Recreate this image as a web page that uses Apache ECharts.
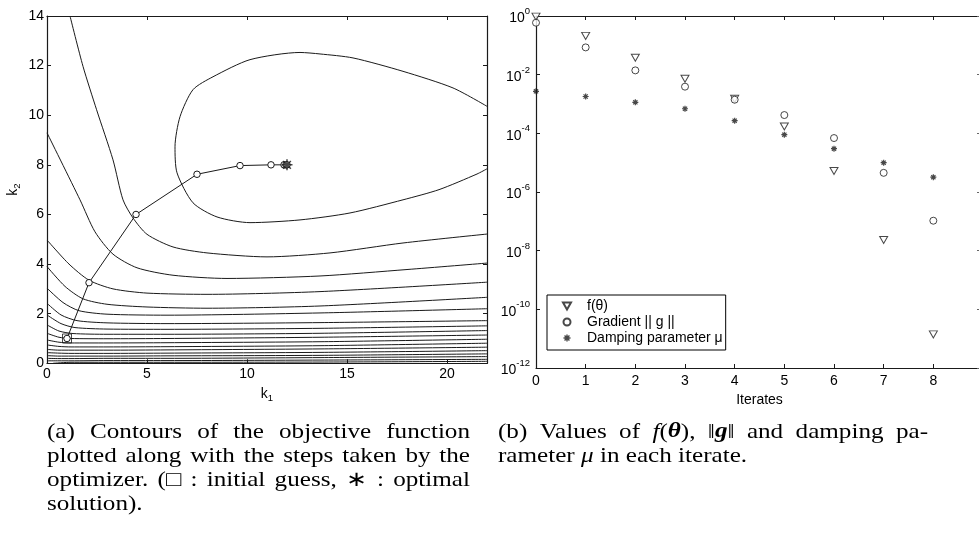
<!DOCTYPE html>
<html><head><meta charset="utf-8">
<script src="https://cdn.jsdelivr.net/npm/echarts@6/dist/echarts.min.js"></script>
<style>html,body{margin:0;padding:0;background:#fff}#c{width:979px;height:550px}</style>
</head><body><div id="c"></div>
<script>
// ---------- data: right panel ----------
const iterates = [0, 1, 2, 3, 4, 5, 6, 7, 8];
const fTheta   = [0.95, 0.21, 0.038, 0.0073, 0.0015, 1.7e-4, 5.2e-6, 2.3e-8, 1.4e-11];
const gradNorm = [0.59, 0.085, 0.014, 0.0039, 0.0014, 4.2e-4, 6.9e-5, 4.5e-6, 1.05e-7];
const damping  = [0.0027, 0.0018, 0.00114, 6.9e-4, 2.7e-4, 9e-5, 3e-5, 1e-5, 3.2e-6];
const iterTickLabels = ['0','1','2','3','4','5','6','7','8'];
const logTickExponents = [0, -2, -4, -6, -8, -10, -12];

// ---------- data: left panel ----------
const k1TickLabels = ['0','5','10','15','20'];
const k2TickLabels = ['0','2','4','6','8','10','12','14'];
const stepK1 = [1.0, 2.1, 4.45, 7.5, 9.65, 11.2, 11.85, 11.95, 12.0];
const stepK2 = [1.0, 3.25, 6.0, 7.62, 7.97, 8.0, 8.0, 8.0, 8.0];
const initialGuess = [[1.0, 1.0]];
const optimum = [[12.0, 8.0]];
// contour lines, [k1, k2]
const contour01 = [[22,10.36],[20.3,11.1],[17.8,11.77],[15.3,12.31],[13.65,12.47],[12.65,12.53],[10.15,12.24],[8.3,11.55],[7.3,11.03],[6.65,9.94],[6.4,8.73],[6.5,7.68],[7.3,6.47],[8.5,5.9],[10.15,5.67],[12.65,5.78],[15.15,6.06],[17.8,6.59],[19.6,7.0],[21.5,7.63],[22,7.84]];
const contour02 = [[1.15,14],[1.8,11.97],[2.48,10.22],[3.3,8.2],[3.8,6.59],[4.3,5.86],[5.0,5.2],[6.3,4.69],[8.0,4.45],[11.0,4.29],[14.15,4.45],[17.8,4.85],[22,5.21]];
const contour03 = [[0,9.29],[1.65,6.59],[2.4,5.3],[3.3,4.4],[4.5,3.85],[6.3,3.55],[9,3.42],[13.65,3.52],[18,3.78],[22,4.04]];
const contour04 = [[0,4.97],[1.1,4.0],[2.1,3.35],[3.3,3.0],[5,2.83],[8,2.78],[13.65,2.89],[22,3.27]];
const contour05 = [[0,3.9],[0.9,3.1],[1.8,2.6],[3,2.38],[5,2.27],[8,2.22],[13.65,2.31],[22,2.66]];
const contour06 = [[0,3.03],[0.8,2.45],[1.6,2.12],[3,1.98],[6,1.94],[13.65,2.03],[22,2.2]];
const contour07 = [[0,2.42],[0.7,1.95],[1.5,1.72],[3,1.63],[6,1.6],[13.65,1.64],[22,1.72]];
const contour08 = [[0,1.95],[0.7,1.6],[1.4,1.44],[3,1.38],[6,1.37],[13.65,1.41],[22,1.51]];
const contour09 = [[0,1.55],[0.6,1.3],[1.3,1.2],[3,1.17],[6,1.17],[13.65,1.21],[22,1.32]];
const contour10 = [[0,1.21],[0.6,1.05],[1.2,1.0],[3,0.99],[6,1.0],[13.65,1.05],[22,1.14]];
const contour11 = [[0,0.94],[0.6,0.85],[1.2,0.82],[3,0.82],[6,0.83],[13.65,0.87],[22,0.97]];
const contour12 = [[0,0.74],[0.6,0.68],[1.2,0.66],[3,0.66],[6,0.67],[13.65,0.71],[22,0.81]];
const contour13 = [[0,0.56],[0.6,0.53],[1.2,0.53],[3,0.53],[6,0.54],[13.65,0.58],[22,0.65]];
const contour14 = [[0,0.43],[0.6,0.41],[1.2,0.4],[3,0.4],[6,0.41],[13.65,0.44],[22,0.51]];
const contour15 = [[0,0.31],[0.6,0.29],[1.2,0.29],[3,0.29],[6,0.3],[13.65,0.32],[22,0.38]];
const contour16 = [[0,0.2],[0.6,0.19],[1.2,0.19],[3,0.2],[6,0.2],[13.65,0.23],[22,0.27]];
const contour17 = [[0,0.1],[0.6,0.1],[1.2,0.1],[3,0.11],[6,0.11],[13.65,0.13],[22,0.16]];
const contour18 = [[0.3,0],[1.2,0.04],[3,0.04],[6,0.04],[13.65,0.05],[22,0.08]];
const contours = [contour01,contour02,contour03,contour04,contour05,contour06,contour07,contour08,contour09,
  contour10,contour11,contour12,contour13,contour14,contour15,contour16,contour17,contour18];

// ---------- styles ----------
const INK = '#1a1a1a';
const SANS = '"Liberation Sans", Arial, sans-serif';
const AX_FS = 14;
const ASTER = 'path://M-0.7,-5 L0.7,-5 L0.7,5 L-0.7,5 Z M-5,-0.7 L5,-0.7 L5,0.7 L-5,0.7 Z M-3.99,-3.01 L-3.01,-3.99 L3.99,3.01 L3.01,3.99 Z M3.01,-3.99 L3.99,-3.01 L-3.01,3.99 L-3.99,3.01 Z';
const ASTER_BOLD = 'path://M-1,-5 L1,-5 L1,5 L-1,5 Z M-5,-1 L5,-1 L5,1 L-5,1 Z M-4.2,-2.8 L-2.8,-4.2 L4.2,2.8 L2.8,4.2 Z M2.8,-4.2 L4.2,-2.8 L-2.8,4.2 L-4.2,2.8 Z';
const TRI_DOWN = 'path://M0,0 L10,0 L5,8.7 Z';
const hollow = {color: '#fff', borderColor: INK, borderWidth: 1};

function baseAxis(extra) {
  return Object.assign({
    axisLine: {show: true, onZero: false, lineStyle: {color: INK, width: 1.2}},
    axisTick: {show: true, inside: true, length: 4, lineStyle: {color: INK, width: 1}},
    splitLine: {show: false},
    axisLabel: {color: '#000', fontFamily: SANS, fontSize: AX_FS},
    nameTextStyle: {color: '#000', fontFamily: SANS, fontSize: AX_FS}
  }, extra);
}
const supRich = {
  b: {fontFamily: SANS, fontSize: AX_FS, color: '#000', verticalAlign: 'bottom', lineHeight: 19},
  s: {fontFamily: SANS, fontSize: 9.5, color: '#000', verticalAlign: 'top', lineHeight: 19}
};
const subRich = {
  a: {fontFamily: SANS, fontSize: AX_FS, color: '#000'},
  s: {fontFamily: SANS, fontSize: 9.5, color: '#000', padding: [8, 0, 0, 0]}
};

const grids = [
  {left: 47, width: 440, top: 16, bottom: 186.7, outerBoundsMode: 'none', containLabel: false},
  {left: 536, width: 447, top: 16, bottom: 182, outerBoundsMode: 'none', containLabel: false}
];

const xAxes = [
  baseAxis({gridIndex: 0, type: 'value', min: 0, max: 22, interval: 5, position: 'bottom',
    axisLabel: {color: '#000', fontFamily: SANS, fontSize: AX_FS, margin: 4,
      formatter: v => (v % 5 === 0 ? (k1TickLabels[v / 5] ?? '') : '')},
    name: '{a|k}{s|1}', nameLocation: 'middle', nameGap: 22, nameTextStyle: {rich: subRich}}),
  baseAxis({gridIndex: 0, type: 'value', min: 0, max: 22, interval: 5, position: 'top', axisLabel: {show: false}}),
  baseAxis({gridIndex: 1, type: 'value', min: 0, max: 9, interval: 1, position: 'bottom',
    axisLabel: {color: '#000', fontFamily: SANS, fontSize: AX_FS, margin: 6,
      formatter: v => iterTickLabels[v] ?? ''},
    name: 'Iterates', nameLocation: 'middle', nameGap: 22}),
  baseAxis({gridIndex: 1, type: 'value', min: 0, max: 9, interval: 1, position: 'top', axisLabel: {show: false}})
];
const yAxes = [
  baseAxis({gridIndex: 0, type: 'value', min: 0, max: 14, interval: 2, position: 'left',
    axisLabel: {color: '#000', fontFamily: SANS, fontSize: AX_FS, margin: 3,
      formatter: v => k2TickLabels[Math.round(v / 2)] ?? ''},
    name: '{a|k}{s|2}', nameLocation: 'middle', nameGap: 25, nameRotate: 90, nameTextStyle: {rich: subRich}}),
  baseAxis({gridIndex: 0, type: 'value', min: 0, max: 14, interval: 2, position: 'right', axisLabel: {show: false}}),
  baseAxis({gridIndex: 1, type: 'log', logBase: 10, min: 1e-12, max: 1, interval: 2, position: 'left',
    axisLabel: {color: '#000', fontFamily: SANS, fontSize: AX_FS, margin: 6, rich: supRich,
      formatter: v => { const e = Math.round(Math.log10(v)); return logTickExponents.includes(e) ? '{b|10}{s|' + e + '}' : ''; }}}),
  baseAxis({gridIndex: 1, type: 'log', logBase: 10, min: 1e-12, max: 1, interval: 2, position: 'right',
    axisLabel: {show: false}, axisTick: {show: true, inside: true, length: 6, lineStyle: {color: '#666', width: 1}}})
];

const series = [];
contours.forEach(c => series.push({
  type: 'line', xAxisIndex: 0, yAxisIndex: 0, data: c, showSymbol: false, symbol: 'none',
  smooth: 0.25, lineStyle: {color: INK, width: 1}, silent: true, z: 2
}));
series.push({
  type: 'line', xAxisIndex: 0, yAxisIndex: 0, data: stepK1.map((k, i) => [k, stepK2[i]]),
  symbol: 'circle', symbolSize: 6.5, showSymbol: true, itemStyle: hollow,
  lineStyle: {color: INK, width: 1}, z: 3
});
series.push({type: 'scatter', xAxisIndex: 0, yAxisIndex: 0, data: initialGuess,
  symbol: 'rect', symbolSize: 9, itemStyle: {color: 'rgba(0,0,0,0)', borderColor: INK, borderWidth: 1}, z: 4});
series.push({type: 'scatter', xAxisIndex: 0, yAxisIndex: 0, data: optimum,
  symbol: ASTER, symbolSize: 11, itemStyle: {color: INK}, z: 5});

series.push({name: 'f(θ)', type: 'scatter', xAxisIndex: 2, yAxisIndex: 2,
  data: iterates.map((k, i) => [k, fTheta[i]]), symbol: TRI_DOWN,
  symbolSize: [8, 7], itemStyle: hollow, clip: false, z: 4});
series.push({name: 'Gradient || g ||', type: 'scatter', xAxisIndex: 2, yAxisIndex: 2,
  data: iterates.map((k, i) => [k, gradNorm[i]]), symbol: 'circle',
  symbolSize: 7, itemStyle: hollow, clip: false, z: 4});
series.push({name: 'Damping parameter μ', type: 'scatter', xAxisIndex: 2, yAxisIndex: 2,
  data: iterates.map((k, i) => [k, damping[i]]), symbol: ASTER_BOLD,
  symbolSize: 6, itemStyle: {color: INK}, clip: false, z: 4});

// ---------- captions ----------
const CAP_FS = 21;
const CAP_FAM = '"Liberation Serif", "Times New Roman", serif';
const capStyles = {
  n: {fontFamily: CAP_FAM, fontSize: CAP_FS, color: '#000'},
  i: {fontFamily: CAP_FAM, fontSize: CAP_FS, fontStyle: 'italic', color: '#000'},
  b: {fontFamily: CAP_FAM, fontSize: CAP_FS, fontWeight: 'bold', fontStyle: 'italic', color: '#000'}
};
const measureCtx = document.createElement('canvas').getContext('2d');
function segWidth(txt, st) {
  const s = capStyles[st];
  measureCtx.font = (s.fontStyle || '') + ' ' + (s.fontWeight || '') + ' ' + s.fontSize + 'px ' + s.fontFamily;
  return measureCtx.measureText(txt).width;
}
function W(...segs) { return segs.map(s => Array.isArray(s) ? s : [s, 'n']); }
const captionA = [
  [W('(a)'), W('Contours'), W('of'), W('the'), W('objective'), W('function')],
  [W('plotted'), W('along'), W('with'), W('the'), W('steps'), W('taken'), W('by'), W('the')],
  [W('optimizer.'), W('(□'), W(':'), W('initial'), W('guess,'), W('∗'), W(':'), W('optimal')],
  [W('solution).')]
];
const captionB = [
  [W('(b)'), W('Values'), W('of'), W(['f', 'i'], '(', ['θ', 'b'], '),'), W('‖', ['g', 'b'], '‖'), W('and'), W('damping'), W('pa-')],
  [W('rameter'), W(['μ', 'i']), W('in'), W('each'), W('iterate.')]
];
// horizontal scale so the serif font reaches the width of the reference's wider face
const refLastLineWidth = 250;
const lastNat = ['rameter', 'μ', 'in', 'each', 'iterate.'].reduce((a, w) => a + segWidth(w, 'n'), 0) + 4 * segWidth(' ', 'n');
const CAP_SX = refLastLineWidth / lastNat;
const graphics = [];
function layCaption(lines, x0, x1, y0, pitch) {
  lines.forEach((words, li) => {
    const widths = words.map(w => w.reduce((a, s) => a + segWidth(s[0], s[1]), 0) * CAP_SX);
    const total = widths.reduce((a, b) => a + b, 0);
    const last = li === lines.length - 1;
    const space = segWidth(' ', 'n') * CAP_SX;
    const gap = (!last && words.length > 1) ? (x1 - x0 - total) / (words.length - 1) : space;
    let x = x0;
    words.forEach((w, wi) => {
      graphics.push({type: 'text', x: x, y: y0 + li * pitch, scaleX: CAP_SX, silent: true,
        style: {text: w.map(s => '{' + s[1] + '|' + s[0] + '}').join(''), rich: capStyles,
          verticalAlign: 'middle', align: 'left'}});
      x += widths[wi] + gap;
    });
  });
}
layCaption(captionA, 47, 470, 432, 24);
layCaption(captionB, 498, 928, 432, 24);

const chart = echarts.init(document.getElementById('c'), null, {renderer: 'canvas'});
chart.setOption({
  animation: false,
  backgroundColor: '#fff',
  grid: grids,
  xAxis: xAxes,
  yAxis: yAxes,
  legend: {
    data: [{name: 'f(θ)', icon: TRI_DOWN}, 'Gradient || g ||', 'Damping parameter μ'],
    orient: 'vertical', left: 547, top: 295,
    itemWidth: 8, itemHeight: 7, itemGap: 2,
    padding: [4, 3, 5, 15],
    backgroundColor: '#fff', borderColor: '#000', borderWidth: 1, borderRadius: 0,
    textStyle: {fontFamily: SANS, fontSize: 14, color: '#000', padding: [0, 0, 0, 11]},
    selectedMode: false
  },
  graphic: graphics,
  series: series
});
</script></body></html>
